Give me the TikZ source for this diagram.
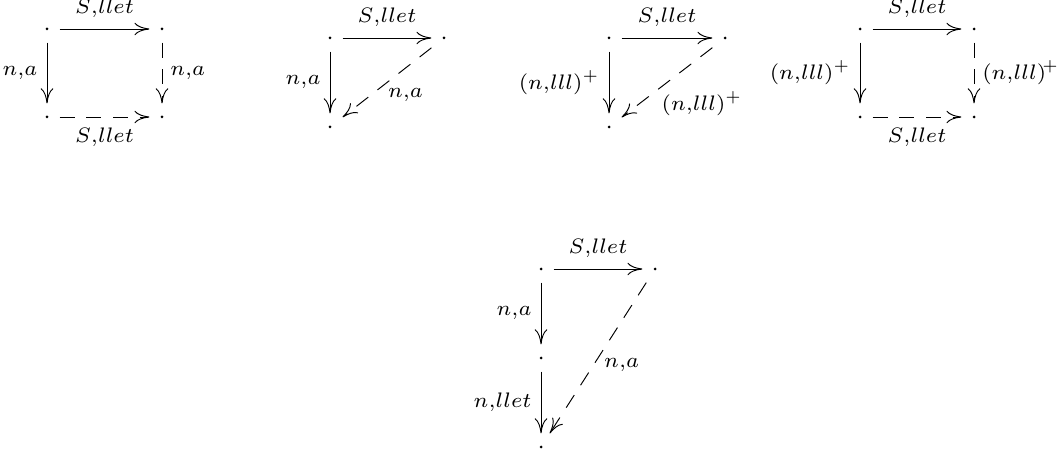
\documentclass[tikz,border=0pt]{standalone}
\usetikzlibrary{arrows.meta}
\tikzset{
 pt/.style={rectangle, inner sep=0pt, minimum width=8pt, minimum height=8.7pt},
 ar/.style={-{Computer Modern Rightarrow[length=5pt,width=4.2pt]}, line width=0.32pt},
 da/.style={ar, dash pattern=on 5pt off 3.9pt},
 lb/.style={font=\scriptsize, inner sep=0pt},
 lL/.style={lb, anchor=east, xshift=-3pt},
 lR/.style={lb, anchor=west, xshift=2.6pt},
 lA/.style={lb, anchor=south, yshift=3.5pt},
 lB/.style={lb, anchor=north, yshift=-3.5pt},
}
\begin{document}
\begin{tikzpicture}[x=0.33333pt, y=-0.33333pt]
\useasboundingbox (0,0) rectangle (1057,453);
% diagram 1
\node[pt] (a1) at (47,29) {};
\node[pt] (b1) at (162,29) {};
\node[pt] (c1) at (47,117) {};
\node[pt] (d1) at (162,117) {};
% diagram 2
\node[pt] (a2) at (330,38) {};
\node[pt] (b2) at (444,38) {};
\node[pt] (c2) at (330,127) {};
% diagram 3
\node[pt] (a3) at (609,38) {};
\node[pt] (b3) at (725,38) {};
\node[pt] (c3) at (609,127) {};
% diagram 4
\node[pt] (a4) at (860,29) {};
\node[pt] (b4) at (974,29) {};
\node[pt] (c4) at (860,117) {};
\node[pt] (d4) at (974,117) {};
% diagram 5
\node[pt] (a5) at (541,269) {};
\node[pt] (b5) at (655,269) {};
\node[pt] (c5) at (541,358) {};
\node[pt] (d5) at (541,447) {};
\foreach \n in {a1,b1,c1,d1,a2,b2,c2,a3,b3,c3,a4,b4,c4,d4,a5,b5,c5,d5}
  \fill (\n) circle (0.5pt);
% connectors 1
\draw[ar] (a1) -- node[lA, midway] {$S{,}llet$} (b1);
\draw[ar] (a1) -- node[lL, midway] {$n{,}a$} (c1);
\draw[da] (b1) -- node[lR, midway] {$n{,}a$} (d1);
\draw[da] (c1) -- node[lB, midway] {$S{,}llet$} (d1);
% connectors 2
\draw[ar] (a2) -- node[lA, midway] {$S{,}llet$} (b2);
\draw[ar] (a2) -- node[lL, midway] {$n{,}a$} (c2);
\draw[da] (b2) -- node[lb, midway, shift={(18.5,13)}] {$n{,}a$} (c2);
% connectors 3
\draw[ar] (a3) -- node[lA, midway] {$S{,}llet$} (b3);
\draw[ar] (a3) -- node[lL, midway] {$(n{,}lll)^+$} (c3);
\draw[da] (b3) -- node[lb, midway, shift={(35,21)}] {$(n{,}lll)^+$} (c3);
% connectors 4
\draw[ar] (a4) -- node[lA, midway] {$S{,}llet$} (b4);
\draw[ar] (a4) -- node[lL, midway] {$(n{,}lll)^+$} (c4);
\draw[da] (b4) -- node[lR, midway] {$(n{,}lll)^{\!+}$} (d4);
\draw[da] (c4) -- node[lB, midway] {$S{,}llet$} (d4);
% connectors 5
\draw[ar] (a5) -- node[lA, midway] {$S{,}llet$} (b5);
\draw[ar] (a5) -- node[lL, midway] {$n{,}a$} (c5);
\draw[ar] (c5) -- node[lL, midway] {$n{,}llet$} (d5);
\draw[da] (b5) -- node[lb, midway, shift={(23.7,7.5)}] {$n{,}a$} (d5);
\end{tikzpicture}
\end{document}
